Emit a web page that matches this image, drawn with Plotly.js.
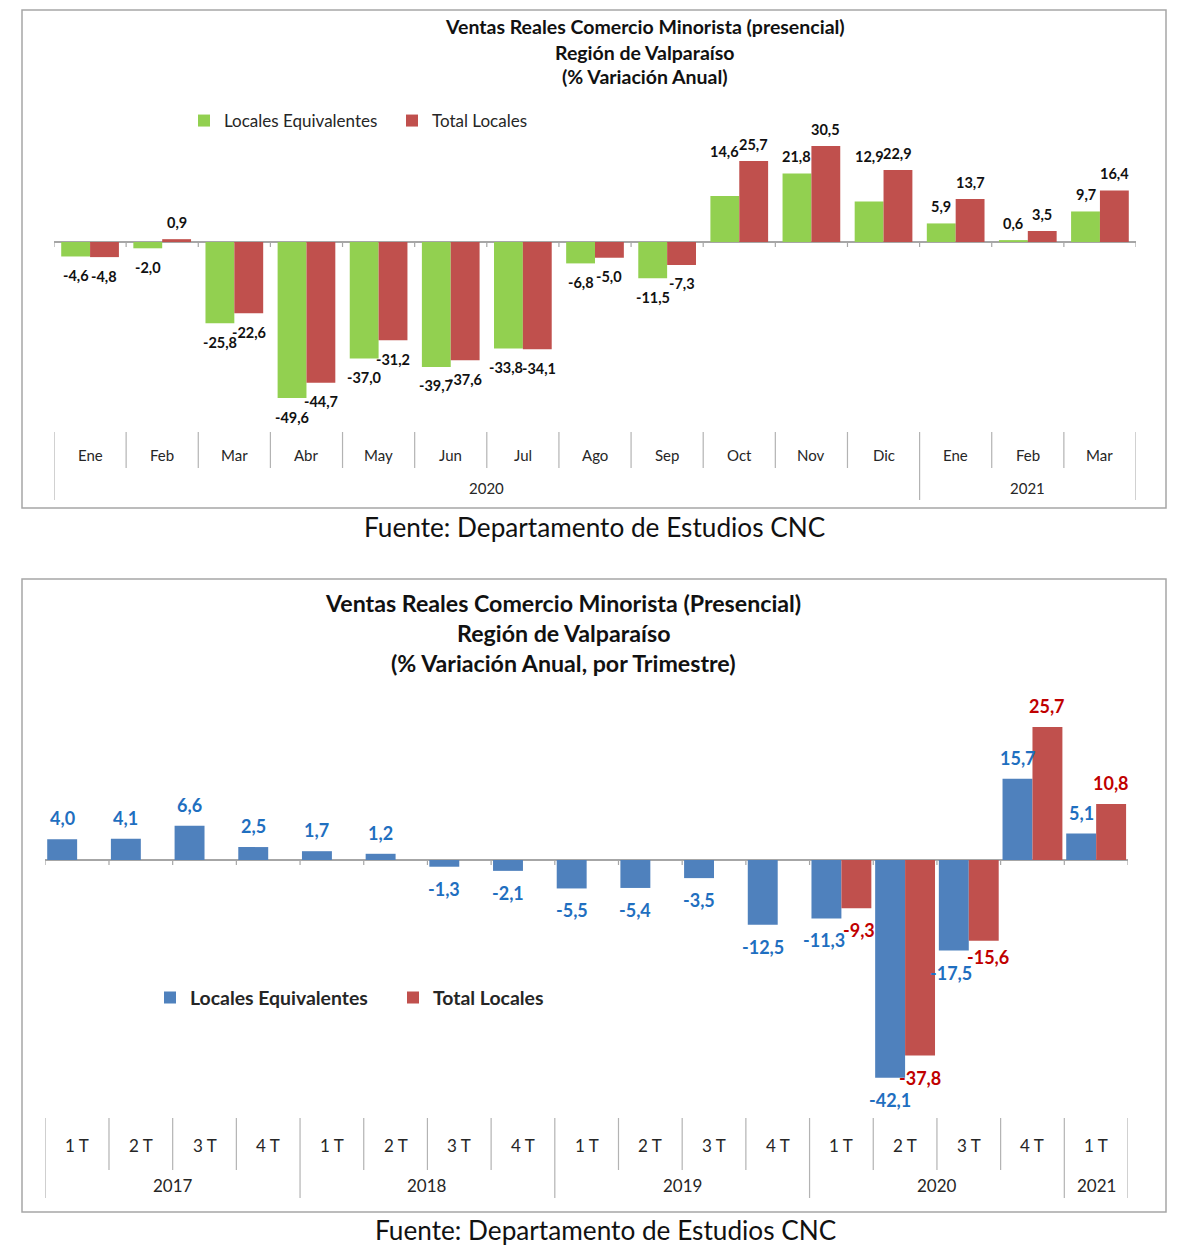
<!DOCTYPE html>
<html><head><meta charset="utf-8">
<script src="https://cdn.plot.ly/plotly-3.0.1.min.js"></script>
<style>html,body{margin:0;padding:0;background:#fff}#chart{width:1200px;height:1251px}</style>
</head><body><div id="chart"></div>
<script>
// ---------- Chart 1: monthly ----------
const months1 = ['Ene','Feb','Mar','Abr','May','Jun','Jul','Ago','Sep','Oct','Nov','Dic','Ene','Feb','Mar'];
const years1  = ['2020','2020','2020','2020','2020','2020','2020','2020','2020','2020','2020','2020','2021','2021','2021'];
const equiv1  = [-4.6,-2.0,-25.8,-49.6,-37.0,-39.7,-33.8,-6.8,-11.5,14.6,21.8,12.9,5.9,0.6,9.7];
const total1  = [-4.8,0.9,-22.6,-44.7,-31.2,-37.6,-34.1,-5.0,-7.3,25.7,30.5,22.9,13.7,3.5,16.4];

// ---------- Chart 2: quarterly ----------
const quarters2 = ['1 T','2 T','3 T','4 T','1 T','2 T','3 T','4 T','1 T','2 T','3 T','4 T','1 T','2 T','3 T','4 T','1 T'];
const years2    = ['2017','2017','2017','2017','2018','2018','2018','2018','2019','2019','2019','2019','2020','2020','2020','2020','2021'];
const equiv2    = [4.0,4.1,6.6,2.5,1.7,1.2,-1.3,-2.1,-5.5,-5.4,-3.5,-12.5,-11.3,-42.1,-17.5,15.7,5.1];
const total2    = [null,null,null,null,null,null,null,null,null,null,null,null,-9.3,-37.8,-15.6,25.7,10.8];

const seriesNames = ['Locales Equivalentes','Total Locales'];

// ---------- helpers ----------
const W = 1200, H = 1251;
const px = v => v / W;
const py = v => 1 - v / H;
const fmt = v => v.toFixed(1).replace('.', ',');
const FONT = 'Lato, "Open Sans", sans-serif';
const keys1 = months1.map((m, i) => years1[i] + ' ' + m);
const keys2 = quarters2.map((q, i) => years2[i] + ' ' + q);

// pixel layout of the two panels
const P1 = {left: 54, right: 1136, top: 131, bottom: 432, zero: 242, scale: 96 / 30.5};
const P2 = {left: 45.3, right: 1128, top: 700, bottom: 1118, zero: 860, scale: 133 / 25.7};
const range = P => [-(P.bottom - P.zero) / P.scale, (P.zero - P.top) / P.scale];

const BW1 = 0.4, BW2 = 0.47;

const traces = [
  {type: 'bar', x: keys1, y: equiv1, name: seriesNames[0], xaxis: 'x', yaxis: 'y', legend: 'legend',
   width: BW1, offset: -BW1, marker: {color: '#92D050'}, hoverinfo: 'none'},
  {type: 'bar', x: keys1, y: total1, name: seriesNames[1], xaxis: 'x', yaxis: 'y', legend: 'legend',
   width: BW1, offset: 0, marker: {color: '#C0504D'}, hoverinfo: 'none'},
  {type: 'bar', x: keys2, y: equiv2, name: seriesNames[0], xaxis: 'x2', yaxis: 'y2', legend: 'legend2',
   width: BW2, offset: -BW2, marker: {color: '#4F81BD'}, hoverinfo: 'none'},
  {type: 'bar', x: keys2, y: total2, name: seriesNames[1], xaxis: 'x2', yaxis: 'y2', legend: 'legend2',
   width: BW2, offset: 0, marker: {color: '#C0504D'}, hoverinfo: 'none'}
];

const annotations = [];
const shapes = [];
const txt = (x, y, text, size, color, extra) => Object.assign({xref: 'paper', yref: 'paper', x: x, y: y, text: text,
  showarrow: false, xanchor: 'center', yanchor: 'middle', font: {family: FONT, size: size, color: color}}, extra || {});

// borders
shapes.push({type: 'rect', xref: 'paper', yref: 'paper', x0: px(22), x1: px(1166), y0: py(10), y1: py(508),
  line: {color: '#a6a6a6', width: 1.5}});
shapes.push({type: 'rect', xref: 'paper', yref: 'paper', x0: px(22), x1: px(1166), y0: py(579), y1: py(1212),
  line: {color: '#a6a6a6', width: 1.5}});

// titles
const t1 = ['Ventas Reales Comercio Minorista (presencial)', 'Región de Valparaíso', '(% Variación Anual)'];
const t1y = [26, 52, 77];
t1.forEach((t, i) => annotations.push(txt(px(645), py(t1y[i]), '<b>' + t + '</b>', 19.5, '#111')));
const t2 = ['Ventas Reales Comercio Minorista (Presencial)', 'Región de Valparaíso', '(% Variación Anual, por Trimestre)'];
const t2y = [603, 633, 663];
t2.forEach((t, i) => annotations.push(txt(px(563), py(t2y[i]), '<b>' + t + '</b>', 23.2, '#111')));

// sources
annotations.push(txt(px(594), py(527), 'Fuente: Departamento de Estudios CNC', 26.2, '#111'));
annotations.push(txt(px(605), py(1230), 'Fuente: Departamento de Estudios CNC', 26.2, '#111'));

// value labels
const nudge1 = {9: [0, 28], 11: [0, 28], 6: [-2, 0]};        // green labels (Oct, Dic raised)
const nudge1r = {6: [2, 0]};
const nudge2r = {12: [3, 0], 14: [4, 6]};
const nudge2g = {12: [-2, 0], 14: [-3, 0]};
function addValueLabels(vals, xr, yr, dx, up, down, size, color, nudge) {
  vals.forEach((v, i) => {
    if (v === null) return;
    const n = (nudge && nudge[i]) || [0, 0];
    annotations.push({xref: xr, yref: yr, x: i + dx, y: v, text: '<b>' + fmt(v) + '</b>', showarrow: false,
      xanchor: 'center', yanchor: 'middle', xshift: n[0], yshift: (v >= 0 ? up : -down) + n[1],
      font: {family: FONT, size: size, color: color}});
  });
}
addValueLabels(equiv1, 'x', 'y', -BW1 / 2, 16.5, 19, 14.5, '#111', nudge1);
addValueLabels(total1, 'x', 'y', BW1 / 2, 16.5, 19, 14.5, '#111', nudge1r);
addValueLabels(equiv2, 'x2', 'y2', -BW2 / 2, 21, 22, 18, '#1F6FC0', nudge2g);
addValueLabels(total2, 'x2', 'y2', BW2 / 2, 21, 22, 18, '#C00000', nudge2r);

// category axis labels, separators and zero-line ticks
function addCategoryAxis(labels, years, xr, yr, labelY, sepTop, sepBottom, yearY, yearSepBottom, size, ysize) {
  const n = labels.length;
  labels.forEach((l, i) => annotations.push({xref: xr, yref: 'paper', x: i, y: py(labelY), text: l, showarrow: false,
    xanchor: 'center', yanchor: 'middle', font: {family: FONT, size: size, color: '#262626'}}));
  for (let b = 0; b <= n; b++) {
    const yearB = b === 0 || b === n || years[b] !== years[b - 1];
    shapes.push({type: 'line', xref: xr, yref: 'paper', x0: b - 0.5, x1: b - 0.5, y0: py(sepTop),
      y1: py(yearB ? yearSepBottom : sepBottom), line: {color: '#b3b3b3', width: 1.2}});
    shapes.push({type: 'line', xref: xr, yref: yr, ysizemode: 'pixel', yanchor: 0, x0: b - 0.5, x1: b - 0.5,
      y0: 0, y1: -5, line: {color: '#a6a6a6', width: 1.2}});
  }
  let s = 0;
  for (let i = 1; i <= n; i++) {
    if (i === n || years[i] !== years[s]) {
      annotations.push({xref: xr, yref: 'paper', x: (s + i - 1) / 2, y: py(yearY), text: years[s], showarrow: false,
        xanchor: 'center', yanchor: 'middle', font: {family: FONT, size: ysize, color: '#262626'}});
      s = i;
    }
  }
}
addCategoryAxis(months1, years1, 'x', 'y', 455, 432, 468, 488, 500, 15, 15);
addCategoryAxis(quarters2, years2, 'x2', 'y2', 1145, 1118, 1170, 1185, 1198, 17, 17);

const axCommon = {type: 'category', showticklabels: false, ticks: '', showgrid: false, zeroline: false, showline: false, fixedrange: true};
const yCommon = {showticklabels: false, ticks: '', showgrid: false, zeroline: true, zerolinecolor: '#a6a6a6', zerolinewidth: 1.5, showline: false, fixedrange: true};

const layout = {
  width: W, height: H,
  margin: {l: 0, r: 0, t: 0, b: 0},
  paper_bgcolor: '#fff', plot_bgcolor: 'rgba(0,0,0,0)',
  showlegend: true,
  barmode: 'overlay',
  xaxis: Object.assign({}, axCommon, {domain: [px(P1.left), px(P1.right)], range: [-0.5, months1.length - 0.5], anchor: 'y'}),
  yaxis: Object.assign({}, yCommon, {domain: [py(P1.bottom), py(P1.top)], range: range(P1), anchor: 'x'}),
  xaxis2: Object.assign({}, axCommon, {domain: [px(P2.left), px(P2.right)], range: [-0.5, quarters2.length - 0.5], anchor: 'y2'}),
  yaxis2: Object.assign({}, yCommon, {domain: [py(P2.bottom), py(P2.top)], range: range(P2), anchor: 'x2'}),
  legend: {orientation: 'h', x: px(184), y: py(121), xanchor: 'left', yanchor: 'middle', bgcolor: 'rgba(0,0,0,0)',
    entrywidth: 163, entrywidthmode: 'pixels', itemwidth: 30, traceorder: 'normal',
    font: {family: FONT, size: 17, color: '#262626'}},
  legend2: {orientation: 'h', x: px(150), y: py(998), xanchor: 'left', yanchor: 'middle', bgcolor: 'rgba(0,0,0,0)',
    entrywidth: 198, entrywidthmode: 'pixels', itemwidth: 30, traceorder: 'normal',
    font: {family: FONT, size: 19.4, color: '#262626', weight: 'bold'}},
  annotations: annotations,
  shapes: shapes
};

Plotly.newPlot('chart', traces, layout, {staticPlot: true, displayModeBar: false});
</script>
</body></html>
